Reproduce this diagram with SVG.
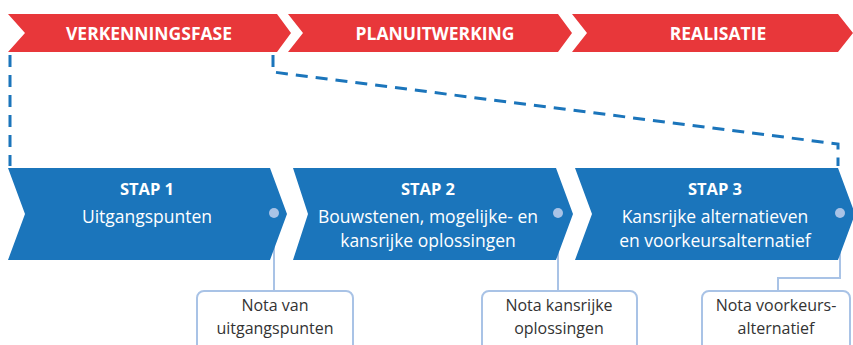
<svg xmlns="http://www.w3.org/2000/svg" width="853" height="345" viewBox="0 0 853 345">
<style>
.red{fill:#e8373a}
.blue{fill:#1b75bb}
.hd{font-family:"Open Sans","Noto Sans",sans-serif;font-weight:700;font-size:17.5px;fill:#fff;text-anchor:middle}
.st{font-family:"Open Sans","Noto Sans",sans-serif;font-weight:700;font-size:16.5px;fill:#fff;text-anchor:middle}
.tx{font-family:"Open Sans","Noto Sans",sans-serif;font-size:17.5px;fill:#fff;text-anchor:middle}
.nt{font-family:"Open Sans","Noto Sans",sans-serif;font-size:16px;fill:#333;text-anchor:middle}
.box{fill:#fff;stroke:#a9c3e6;stroke-width:2}
.lk{fill:none;stroke:#a9c3e6;stroke-width:2}
.dot{fill:#a9c3e6}
.dash{fill:none;stroke:#1b75bb;stroke-width:3;stroke-dasharray:12 8}
</style>
<g id="connectors">
<path class="dash" d="M10,55 V166"/>
<path class="dash" d="M273,55 V72 L838,144 V166"/>
<path class="lk" d="M274,213 V291"/>
<path class="lk" d="M558,213 V291"/>
<path class="lk" d="M840,213 V278 H778 V291"/>
</g>
<g id="verkenningsfase">
<polygon class="red" points="8,14 277,14 291,33 277,52 8,52 25,33"/>
<text class="hd" x="149" y="39.5">VERKENNINGSFASE</text>
</g>
<g id="planuitwerking">
<polygon class="red" points="288,14 558,14 572,33 558,52 288,52 303,33"/>
<text class="hd" x="435" y="39.5">PLANUITWERKING</text>
</g>
<g id="realisatie">
<polygon class="red" points="572,14 838,14 853,33 838,52 572,52 587,33"/>
<text class="hd" x="718" y="39.5">REALISATIE</text>
</g>
<g id="stap1">
<polygon class="blue" points="8,168 270,168 287,214 270,260 8,260 25,214"/>
<text class="st" x="147" y="195">STAP 1</text>
<text class="tx" x="147" y="223">Uitgangspunten</text>
<circle class="dot" cx="274" cy="213" r="5"/>
</g>
<g id="stap2">
<polygon class="blue" points="293,168 556,168 573,214 556,260 293,260 308,214"/>
<text class="st" x="428" y="195">STAP 2</text>
<text class="tx" x="428" y="223">Bouwstenen, mogelijke- en</text>
<text class="tx" x="428" y="247">kansrijke oplossingen</text>
<circle class="dot" cx="558" cy="213" r="5"/>
</g>
<g id="stap3">
<polygon class="blue" points="575,168 838,168 855,214 838,260 575,260 592,214"/>
<text class="st" x="715" y="195">STAP 3</text>
<text class="tx" x="715" y="223">Kansrijke alternatieven</text>
<text class="tx" x="715" y="247">en voorkeursalternatief</text>
<circle class="dot" cx="840" cy="213" r="5"/>
</g>
<g id="nota1">
<rect class="box" x="197" y="291" width="156" height="64" rx="7"/>
<text class="nt" x="275" y="311">Nota van</text>
<text class="nt" x="275" y="334">uitgangspunten</text>
</g>
<g id="nota2">
<rect class="box" x="482" y="291" width="155" height="64" rx="7"/>
<text class="nt" x="559" y="311">Nota kansrijke</text>
<text class="nt" x="559" y="334">oplossingen</text>
</g>
<g id="nota3">
<rect class="box" x="702" y="291" width="148" height="64" rx="7"/>
<text class="nt" x="776" y="311">Nota voorkeurs-</text>
<text class="nt" x="776" y="334">alternatief</text>
</g>
</svg>
